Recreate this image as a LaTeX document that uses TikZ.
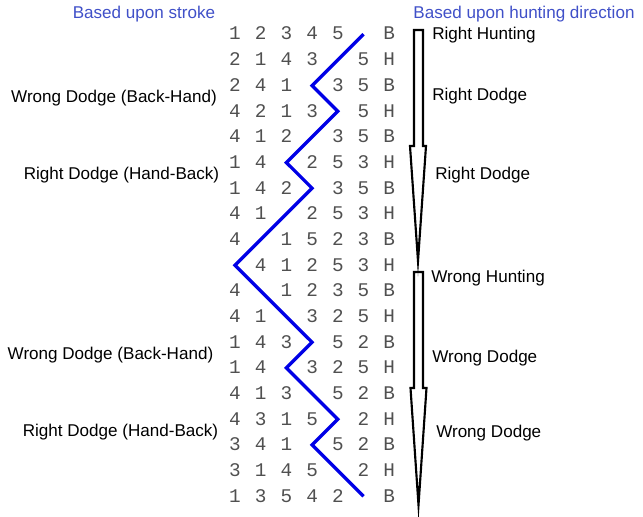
\documentclass[tikz,border=0pt]{standalone}
\usepackage{fontspec}
\setmainfont{Liberation Sans}
\newfontfamily\bellfont{Liberation Mono}
\definecolor{titleblue}{RGB}{64,80,200}
\definecolor{lineblue}{RGB}{0,0,230}
\definecolor{bellgray}{RGB}{80,80,80}
\tikzset{
  bell/.style={inner sep=0pt, anchor=base, text=bellgray, font=\bellfont\fontsize{14.5}{16}\selectfont},
  lbl/.style={inner sep=0pt, font=\fontsize{12.8}{15}\selectfont},
  title/.style={lbl, text=titleblue},
  huntline/.style={draw=lineblue, line width=2.5pt, line join=miter},
  arrowshape/.style={draw=black, line width=1.6pt, line join=miter, miter limit=20},
}
\newcommand\bellrow[2]{\foreach \c/\t in {#2}{\node[bell] (b#1c\c) at ({235+(\c-1)*25.7},{40+(#1-1)*25.67}) {\t};}}
\begin{document}
\begin{tikzpicture}[x=0.75pt,y=-0.75pt]
\useasboundingbox (0,0) rectangle (643,517);
% titles
\node[title, anchor=base] (t1) at (144,18.3) {Based upon stroke};
\node[title, anchor=base] (t2) at (524,18.3) {Based upon hunting direction};
% left labels
\node[lbl, anchor=base] (l1) at (114,102.7) {Wrong Dodge (Back-Hand)};
\node[lbl, anchor=base] (l2) at (121.5,179) {Right Dodge (Hand-Back)};
\node[lbl, anchor=base] (l3) at (110.5,359.3) {Wrong Dodge (Back-Hand)};
\node[lbl, anchor=base] (l4) at (120.5,436.7) {Right Dodge (Hand-Back)};
% right labels
\node[lbl, anchor=base west] (r1) at (432,40) {Right Hunting};
\node[lbl, anchor=base west] (r2) at (432,100.7) {Right Dodge};
\node[lbl, anchor=base west] (r3) at (435,179.5) {Right Dodge};
\node[lbl, anchor=base west] (r4) at (431,282.7) {Wrong Hunting};
\node[lbl, anchor=base west] (r5) at (432,362.7) {Wrong Dodge};
\node[lbl, anchor=base west] (r6) at (436,437.3) {Wrong Dodge};
% rows of bells
\bellrow{1}{1/1,2/2,3/3,4/4,5/5,7/B}
\bellrow{2}{1/2,2/1,3/4,4/3,6/5,7/H}
\bellrow{3}{1/2,2/4,3/1,5/3,6/5,7/B}
\bellrow{4}{1/4,2/2,3/1,4/3,6/5,7/H}
\bellrow{5}{1/4,2/1,3/2,5/3,6/5,7/B}
\bellrow{6}{1/1,2/4,4/2,5/5,6/3,7/H}
\bellrow{7}{1/1,2/4,3/2,5/3,6/5,7/B}
\bellrow{8}{1/4,2/1,4/2,5/5,6/3,7/H}
\bellrow{9}{1/4,3/1,4/5,5/2,6/3,7/B}
\bellrow{10}{2/4,3/1,4/2,5/5,6/3,7/H}
\bellrow{11}{1/4,3/1,4/2,5/3,6/5,7/B}
\bellrow{12}{1/4,2/1,4/3,5/2,6/5,7/H}
\bellrow{13}{1/1,2/4,3/3,5/5,6/2,7/B}
\bellrow{14}{1/1,2/4,4/3,5/2,6/5,7/H}
\bellrow{15}{1/4,2/1,3/3,5/5,6/2,7/B}
\bellrow{16}{1/4,2/3,3/1,4/5,6/2,7/H}
\bellrow{17}{1/3,2/4,3/1,5/5,6/2,7/B}
\bellrow{18}{1/3,2/1,3/4,4/5,6/2,7/H}
\bellrow{19}{1/1,2/3,3/5,4/4,5/2,7/B}
% path of the treble
\foreach \n/\c/\r in {a/6/1,b/4/3,c/5/4,d/3/6,e/4/7,f/1/10,g/4/13,h/3/14,i/5/16,j/4/17,k/6/19}
  \coordinate (v\n) at ({235+(\c-1)*25.7},{34.2+(\r-1)*25.67});
\draw[huntline] (va) -- (vb) -- (vc) -- (vd) -- (ve) -- (vf) -- (vg) -- (vh) -- (vi) -- (vj) -- (vk);
% arrows
\coordinate (a1top) at (418.5,30);
\coordinate (a1tip) at (418,261);
\draw[arrowshape] (414,146) -- (414,30) -- (423,30) -- (423,146) -- (426,146) -- (a1tip) -- (410,146) -- cycle;
\coordinate (a2tip) at (418.5,505);
\draw[arrowshape] (414,388) -- (414,272) -- (423,272) -- (423,388) -- (426.5,388) -- (a2tip) -- (410.5,388) -- cycle;
\end{tikzpicture}
\end{document}
